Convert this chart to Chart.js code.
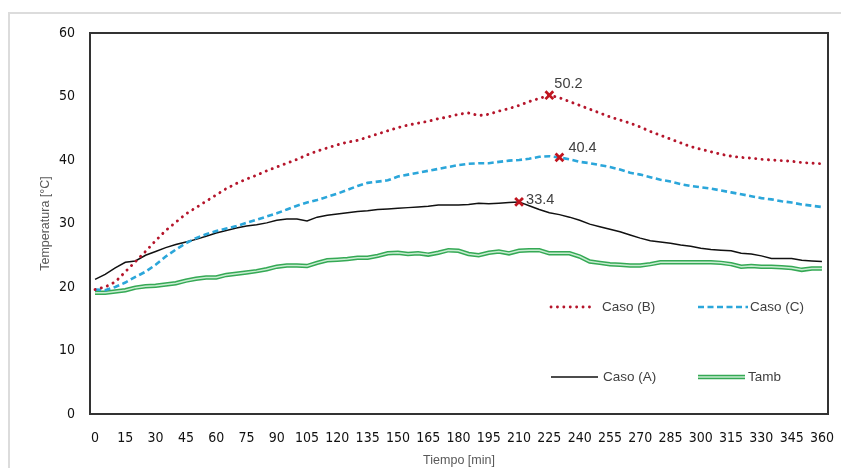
<!DOCTYPE html>
<html>
<head>
<meta charset="utf-8">
<script src="https://cdn.jsdelivr.net/npm/chart.js@4"></script>
<style>
  body { margin: 0; background: #fff; overflow: hidden; }
  #frame { position: absolute; left: 8px; top: 12px; width: 1000px; height: 600px; border: 2px solid #dcdcdc; }
  #wrap { position: absolute; left: 0; top: 0; width: 841px; height: 468px; }
</style>
</head>
<body>
<div id="frame"></div>
<div id="wrap"><canvas id="chart" width="841" height="468"></canvas></div>
<script>
// tiempo cada 5 min
const minutes = [];
for (let m = 0; m <= 360; m += 5) minutes.push(m);
const xTicks = [0, 15, 30, 45, 60, 75, 90, 105, 120, 135, 150, 165, 180, 195, 210, 225, 240, 255, 270, 285, 300, 315, 330, 345, 360];

const casoB = [19.6, 20.0, 20.8, 22.4, 24.0, 25.6, 27.3, 28.9, 30.2, 31.5, 32.5, 33.5, 34.5, 35.5, 36.3, 37.0, 37.6, 38.3, 38.9, 39.5,
  40.1, 40.8, 41.4, 41.9, 42.4, 42.8, 43.1, 43.6, 44.1, 44.6, 45.1, 45.5, 45.8, 46.1, 46.5, 46.8, 47.2, 47.4, 47.0, 47.2,
  47.7, 48.1, 48.6, 49.2, 49.7, 50.2, 49.8, 49.2, 48.6, 48.0, 47.4, 46.8, 46.3, 45.8, 45.2, 44.5, 43.9, 43.3, 42.7, 42.1,
  41.7, 41.3, 40.9, 40.6, 40.4, 40.3, 40.1, 40.0, 39.9, 39.8, 39.6, 39.5, 39.4];
const casoC = [19.6, 19.5, 20.0, 20.7, 21.6, 22.4, 23.5, 24.8, 25.9, 26.9, 27.7, 28.3, 28.8, 29.2, 29.6, 30.1, 30.6, 31.1, 31.6, 32.2,
  32.8, 33.3, 33.7, 34.2, 34.7, 35.3, 35.9, 36.4, 36.6, 36.8, 37.4, 37.7, 38.0, 38.3, 38.6, 38.9, 39.2, 39.4, 39.5, 39.5,
  39.7, 39.9, 40.0, 40.2, 40.5, 40.6, 40.4, 40.1, 39.7, 39.5, 39.2, 38.9, 38.5, 38.0, 37.7, 37.3, 36.9, 36.6, 36.2, 35.9,
  35.7, 35.5, 35.2, 34.9, 34.6, 34.3, 34.0, 33.8, 33.5, 33.3, 33.0, 32.8, 32.6];
const casoA = [21.2, 22.0, 23.0, 23.9, 24.1, 25.0, 25.6, 26.2, 26.7, 27.1, 27.5, 28.0, 28.5, 28.9, 29.3, 29.6, 29.8, 30.1, 30.5, 30.7,
  30.7, 30.4, 31.0, 31.3, 31.5, 31.7, 31.9, 32.0, 32.2, 32.3, 32.4, 32.5, 32.6, 32.7, 32.9, 32.9, 32.9, 33.0, 33.2, 33.1,
  33.2, 33.3, 33.4, 32.8, 32.2, 31.7, 31.4, 31.0, 30.5, 29.9, 29.5, 29.1, 28.7, 28.2, 27.7, 27.3, 27.1, 26.9, 26.6, 26.4,
  26.1, 25.9, 25.8, 25.7, 25.3, 25.2, 24.9, 24.5, 24.5, 24.5, 24.2, 24.1, 24.0];
const tamb = [19.1, 19.1, 19.3, 19.5, 19.9, 20.1, 20.2, 20.4, 20.6, 21.0, 21.3, 21.5, 21.5, 21.9, 22.1, 22.3, 22.5, 22.8, 23.2, 23.4,
  23.4, 23.3, 23.8, 24.2, 24.3, 24.4, 24.6, 24.6, 24.9, 25.3, 25.4, 25.2, 25.3, 25.1, 25.4, 25.8, 25.7, 25.2, 25.0, 25.4,
  25.6, 25.3, 25.7, 25.8, 25.8, 25.3, 25.3, 25.3, 24.8, 24.0, 23.8, 23.6, 23.5, 23.4, 23.4, 23.6, 23.9, 23.9, 23.9, 23.9,
  23.9, 23.9, 23.8, 23.6, 23.2, 23.3, 23.2, 23.2, 23.1, 23.0, 22.7, 22.9, 22.9];

// máximos marcados (minuto de cada caso)
const peakMinutes = { B: 225, C: 230, A: 210 };

const toXY = arr => arr.map((v, i) => ({ x: minutes[i], y: v }));
const peakPoint = (arr, m) => ({ x: m, y: arr[minutes.indexOf(m)] });
const peaks = [peakPoint(casoB, peakMinutes.B), peakPoint(casoC, peakMinutes.C), peakPoint(casoA, peakMinutes.A)];

const RED = "#b5152b", BLUE = "#2ba6da", BLACK = "#111111", GREEN = "#35a955", GREEN_IN = "#c9edd2";
const TXT = "#404040";
const LBL_FONT = "'Liberation Sans', Arial, sans-serif";
const TICK_FONT = "'Liberation Sans Narrow', 'DejaVu Sans Condensed', sans-serif";

// marco del área de gráfico
const framePlugin = {
  id: "frame",
  beforeDatasetsDraw(chart) {
    const { ctx, chartArea: a } = chart;
    ctx.save();
    ctx.strokeStyle = "#333333";
    ctx.lineWidth = 2;
    ctx.strokeRect(a.left, a.top, a.right - a.left, a.bottom - a.top);
    ctx.restore();
  }
};

// leyenda y etiquetas de los máximos
const extrasPlugin = {
  id: "extras",
  afterDatasetsDraw(chart) {
    const ctx = chart.ctx;
    const meta = chart.getDatasetMeta(5);
    ctx.save();
    ctx.fillStyle = TXT;
    ctx.font = "14.5px " + LBL_FONT;
    ctx.textBaseline = "middle";
    ctx.textAlign = "left";
    const offs = [[5, -11], [9, -9], [7, -2]];
    meta.data.forEach((pt, i) => {
      ctx.fillText(peaks[i].y.toFixed(1), pt.x + offs[i][0], pt.y + offs[i][1]);
    });

    const items = [
      { text: "Caso (B)", x1: 551, x2: 594, tx: 602, y: 307, kind: "dot" },
      { text: "Caso (C)", x1: 698, x2: 748, tx: 750, y: 307, kind: "dash" },
      { text: "Caso (A)", x1: 551, x2: 598, tx: 603, y: 377, kind: "solid" },
      { text: "Tamb", x1: 698, x2: 745, tx: 748, y: 377, kind: "double" }
    ];
    ctx.font = "13.5px " + LBL_FONT;
    items.forEach(it => {
      ctx.save();
      ctx.beginPath();
      ctx.moveTo(it.x1, it.y);
      ctx.lineTo(it.x2, it.y);
      if (it.kind === "dot") {
        ctx.strokeStyle = RED; ctx.lineWidth = 2.8; ctx.lineCap = "round"; ctx.setLineDash([0.1, 6.3]);
        ctx.stroke();
      } else if (it.kind === "dash") {
        ctx.strokeStyle = BLUE; ctx.lineWidth = 2.5; ctx.setLineDash([6, 3.5]);
        ctx.stroke();
      } else if (it.kind === "solid") {
        ctx.strokeStyle = BLACK; ctx.lineWidth = 1.5;
        ctx.stroke();
      } else {
        ctx.strokeStyle = GREEN; ctx.lineWidth = 4.5; ctx.stroke();
        ctx.strokeStyle = GREEN_IN; ctx.lineWidth = 1.5; ctx.stroke();
      }
      ctx.restore();
      ctx.fillStyle = TXT;
      ctx.fillText(it.text, it.tx, it.y);
    });
    ctx.restore();
  }
};

const ctx = document.getElementById("chart").getContext("2d");
new Chart(ctx, {
  type: "line",
  data: {
    datasets: [
      { label: "Tamb", data: toXY(tamb), borderColor: GREEN, borderWidth: 4.5, order: 6 },
      { label: "Tamb interior", data: toXY(tamb), borderColor: GREEN_IN, borderWidth: 1.5, order: 5 },
      { label: "Caso (A)", data: toXY(casoA), borderColor: BLACK, borderWidth: 1.5, order: 4 },
      { label: "Caso (C)", data: toXY(casoC), borderColor: BLUE, borderWidth: 2.6, borderDash: [6, 3.5], order: 3 },
      { label: "Caso (B)", data: toXY(casoB), borderColor: RED, borderWidth: 2.9, borderDash: [0.1, 6.3], borderCapStyle: "round", order: 2 },
      {
        label: "Máximos", type: "scatter", data: peaks, showLine: false, order: 1,
        pointStyle: "crossRot", pointRadius: 5.5, pointBorderWidth: 2.8, pointBorderColor: "#c0151f", pointBackgroundColor: "#c0151f"
      }
    ]
  },
  options: {
    responsive: false,
    animation: false,
    events: [],
    layout: { padding: { left: 0, top: 33, right: 13, bottom: 0 } },
    elements: { point: { radius: 0 }, line: { tension: 0, fill: false } },
    plugins: { legend: { display: false }, tooltip: { enabled: false } },
    scales: {
      x: {
        type: "linear",
        min: -2.5,
        max: 363,
        afterBuildTicks: scale => { scale.ticks = xTicks.map(v => ({ value: v })); },
        afterFit: scale => { scale.height = 54; scale.paddingLeft = 0; scale.paddingRight = 0; },
        grid: { display: false, drawTicks: false },
        border: { display: false },
        ticks: {
          autoSkip: false, maxRotation: 0, padding: 16, color: "#111",
          font: { family: TICK_FONT, size: 14 }
        },
        title: {
          display: true, text: "Tiempo [min]", color: "#595959", padding: { top: 0, bottom: 0 },
          font: { family: LBL_FONT, size: 12.5 }
        }
      },
      y: {
        min: 0,
        max: 60,
        afterFit: scale => { scale.width = 90; scale.paddingTop = 0; scale.paddingBottom = 0; },
        grid: { display: false, drawTicks: false },
        border: { display: false },
        ticks: {
          stepSize: 10, padding: 15, color: "#111",
          font: { family: TICK_FONT, size: 14 }
        },
        title: {
          display: true, text: "Temperatura [°C]", color: "#595959", padding: { top: 38, bottom: 0 },
          font: { family: LBL_FONT, size: 12.5 }
        }
      }
    }
  },
  plugins: [framePlugin, extrasPlugin]
});
</script>
</body>
</html>
